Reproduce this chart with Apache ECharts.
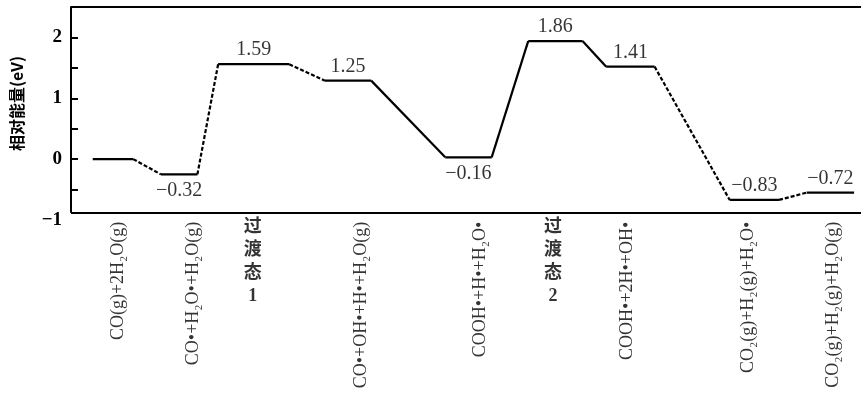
<!DOCTYPE html>
<html>
<head>
<meta charset="utf-8">
<script src="https://cdn.jsdelivr.net/npm/echarts@6/dist/echarts.min.js"></script>
<style>
  html, body { margin: 0; padding: 0; background: #fff; }
  #chart { width: 861px; height: 415px; }
</style>
</head>
<body>
<div id="chart"></div>
<script>
// 各状态相对能量(eV), 图上标注的数值
var energies = [0, -0.32, 1.59, 1.25, -0.16, 1.86, 1.41, -0.83, -0.72];
// 原图是示意图, 能级实际画出的高度与标注并不完全一致
var drawnLevels = [0, -0.25, 1.56, 1.29, 0.03, 1.94, 1.52, -0.67, -0.55];
// 反应坐标上每个能级的起止位置
var levelStart = [2.2, 9.1, 14.9, 25.7, 37.9, 46.3, 54.2, 66.7, 74.5];
var levelEnd   = [6.3, 12.8, 22.1, 30.4, 42.6, 51.8, 59.1, 71.7, 79.3];
// 能级之间的连接线是否为虚线
var linkDashed = [true, true, true, false, false, false, true, true];
// 数值标签在能级上方还是下方 (第一个不显示)
var valueSide = ['none', 'bottom', 'top', 'top', 'bottom', 'top', 'top', 'top', 'top'];
// 横轴下方的物种名称
var species = [
    'CO(g)+2H₂O(g)',
    'CO•+H₂O•+H₂O(g)',
    '过\n渡\n态\n1',
    'CO•+OH•+H•+H₂O(g)',
    'COOH•+H•+H₂O•',
    '过\n渡\n态\n2',
    'COOH•+2H•+OH•',
    'CO₂(g)+H₂(g)+H₂O•',
    'CO₂(g)+H₂(g)+H₂O(g)'
];
var speciesX = [4.8, 12.4, 18.4, 29.4, 41.4, 48.8, 56.3, 68.6, 77.2];
var yLabels = [-1, 0, 1, 2];
var yTicks = [-0.5, 0, 0.5, 1, 1.5, 2];
var frameBottom = -0.88;   // 图框底边略高于 -1
var xMax = 80;

var chartDom = document.getElementById('chart');
var myChart = echarts.init(chartDom, null, { renderer: 'canvas' });

var serif = '"Liberation Serif", "DejaVu Serif", serif';
var ink = '#000';
var series = [];

// 能级横线
for (var i = 0; i < drawnLevels.length; i++) {
    series.push({
        type: 'line',
        data: [[levelStart[i], drawnLevels[i]], [levelEnd[i], drawnLevels[i]]],
        symbol: 'none',
        lineStyle: { color: ink, width: 2.2 },
        silent: true
    });
}
// 连接线
for (var j = 0; j < linkDashed.length; j++) {
    series.push({
        type: 'line',
        data: [[levelEnd[j], drawnLevels[j]], [levelStart[j + 1], drawnLevels[j + 1]]],
        symbol: 'none',
        lineStyle: { color: ink, width: 2.2, type: linkDashed[j] ? [4, 2] : 'solid' },
        silent: true
    });
}
// 图框 (底边和左边)
series.push({
    type: 'line',
    data: [],
    silent: true,
    markLine: {
        silent: true,
        symbol: 'none',
        label: { show: false },
        lineStyle: { color: ink, width: 2, type: 'solid' },
        data: [
            [{ coord: [0, frameBottom] }, { coord: [xMax, frameBottom] }],
            [{ coord: [0, frameBottom] }, { coord: [0, 2.5] }]
        ]
    }
});
// 数值标签
var valueData = [];
for (var k = 0; k < energies.length; k++) {
    if (valueSide[k] === 'none') continue;
    valueData.push({
        value: [(levelStart[k] + levelEnd[k]) / 2, drawnLevels[k]],
        name: (energies[k] < 0 ? '−' : '') + Math.abs(energies[k]).toFixed(2),
        label: { position: valueSide[k], distance: valueSide[k] === 'top' ? 4 : 6 }
    });
}
series.push({
    type: 'scatter',
    data: valueData,
    symbolSize: 0,
    silent: true,
    label: {
        show: true,
        color: ink,
        fontFamily: serif,
        fontSize: 20,
        formatter: '{b}'
    }
});
// 横轴下的物种名称
var nameData = [];
for (var m = 0; m < species.length; m++) {
    var isTS = species[m].indexOf('过') === 0;
    nameData.push({
        value: [speciesX[m], frameBottom],
        name: species[m],
        label: isTS ? {
            rotate: 0, align: 'center', verticalAlign: 'top', lineHeight: 23, distance: 3,
            fontFamily: '"Liberation Serif", "Noto Sans CJK SC", serif', fontSize: 18, fontWeight: 'bold'
        } : {
            rotate: 90, align: 'right', verticalAlign: 'middle', distance: 9
        }
    });
}
series.push({
    type: 'scatter',
    data: nameData,
    symbolSize: 0,
    silent: true,
    clip: false,
    label: {
        show: true,
        position: 'bottom',
        color: ink,
        fontFamily: serif,
        fontSize: 18,
        formatter: '{b}'
    }
});

var option = {
    animation: false,
    backgroundColor: '#fff',
    grid: { left: 71, right: -4, top: 7, bottom: 195 },
    xAxis: [{
        type: 'value',
        min: 0, max: xMax,
        axisLine: { show: false },
        axisTick: { show: false },
        axisLabel: { show: false },
        splitLine: { show: false }
    }, {
        // 只用来画图框上边
        type: 'value',
        position: 'top',
        min: 0, max: xMax,
        axisLine: { show: true, lineStyle: { color: ink, width: 2 } },
        axisTick: { show: false },
        axisLabel: { show: false },
        splitLine: { show: false }
    }],
    yAxis: {
        type: 'value',
        min: -1, max: 2.5,
        name: '相对能量(eV)',
        nameLocation: 'middle',
        nameGap: 46,
        nameTextStyle: {
            color: ink, fontSize: 16, fontWeight: 'bold',
            fontFamily: '"Noto Sans CJK SC", sans-serif', padding: [0, 0, 0, 20]
        },
        axisLine: { show: false },
        axisTick: {
            show: true, inside: true, length: 7, customValues: yTicks,
            lineStyle: { color: ink, width: 2 }
        },
        axisLabel: {
            color: ink, fontFamily: serif, fontSize: 19, fontWeight: 'bold', margin: 9,
            customValues: yLabels,
            formatter: function (v) { return v < 0 ? '−' + Math.abs(v) : String(v); }
        },
        splitLine: { show: false }
    },
    series: series
};

myChart.setOption(option);
</script>
</body>
</html>
